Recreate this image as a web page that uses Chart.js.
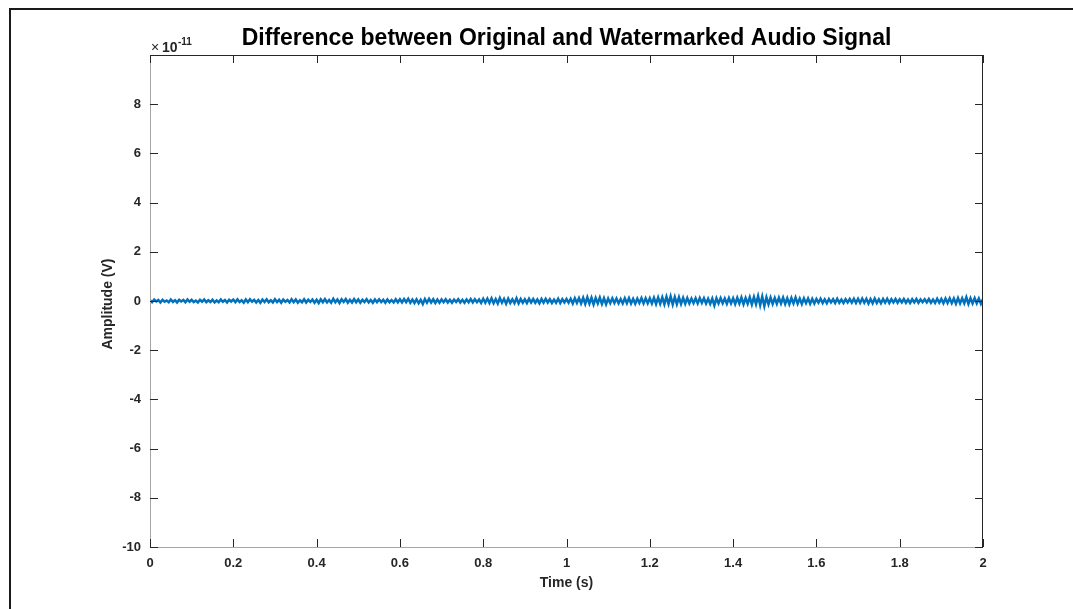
<!DOCTYPE html>
<html>
<head>
<meta charset="utf-8">
<script src="https://cdn.jsdelivr.net/npm/chart.js@4/dist/chart.umd.min.js"></script>
<style>
  html, body { margin: 0; padding: 0; background: #fff; }
  #wrap { width: 1073px; height: 609px; }
</style>
</head>
<body>
<div id="wrap"><canvas id="diffChart" width="1073" height="609"></canvas></div>
<script>
// difference signal, in units of 1e-11 V, one sample every 5 ms
const sampleStep = 0.005;
const diffValues = [
  0.03,-0.05,0.06,-0.02,0.04,-0.06,0.05,-0.03,0.02,-0.05,0.06,-0.04,0.03,-0.06,0.05,-0.02,0.04,-0.05,0.06,-0.03,
  0.05,-0.04,0.02,-0.06,0.05,-0.03,0.06,-0.05,0.03,-0.04,0.05,-0.06,0.02,-0.05,0.06,-0.03,0.04,-0.06,0.05,-0.02,
  0.06,-0.05,0.07,-0.04,0.03,-0.07,0.06,-0.05,0.07,-0.03,0.05,-0.06,0.04,-0.07,0.06,-0.04,0.07,-0.05,0.03,-0.06,
  0.07,-0.04,0.05,-0.07,0.06,-0.03,0.04,-0.06,0.07,-0.05,0.06,-0.07,0.03,-0.05,0.07,-0.06,0.05,-0.04,0.06,-0.07,
  0.05,-0.08,0.07,-0.05,0.08,-0.06,0.04,-0.07,0.09,-0.05,0.06,-0.08,0.07,-0.04,0.08,-0.07,0.05,-0.06,0.08,-0.05,
  0.06,-0.07,0.05,-0.04,0.07,-0.06,0.04,-0.07,0.06,-0.05,0.07,-0.04,0.05,-0.07,0.06,-0.05,0.04,-0.06,0.07,-0.05,
  0.07,-0.06,0.08,-0.05,0.09,-0.07,0.06,-0.08,0.07,-0.09,0.05,-0.12,0.08,-0.07,0.09,-0.06,0.07,-0.08,0.06,-0.07,
  0.06,-0.05,0.07,-0.06,0.05,-0.07,0.06,-0.04,0.07,-0.06,0.05,-0.07,0.06,-0.05,0.08,-0.06,0.07,-0.05,0.06,-0.08,
  0.09,-0.07,0.10,-0.08,0.11,-0.09,0.08,-0.10,0.12,-0.07,0.09,-0.11,0.10,-0.08,0.07,-0.09,0.11,-0.10,0.08,-0.07,
  0.07,-0.08,0.09,-0.06,0.08,-0.07,0.06,-0.09,0.08,-0.07,0.09,-0.06,0.07,-0.08,0.06,-0.07,0.09,-0.08,0.07,-0.06,
  0.08,-0.07,0.09,-0.10,0.11,-0.08,0.12,-0.10,0.13,-0.12,0.15,-0.11,0.13,-0.14,0.12,-0.10,0.14,-0.12,0.11,-0.13,
  0.10,-0.09,0.11,-0.08,0.10,-0.09,0.08,-0.10,0.11,-0.09,0.12,-0.10,0.09,-0.11,0.10,-0.08,0.12,-0.10,0.11,-0.09,
  0.11,-0.10,0.13,-0.12,0.14,-0.11,0.15,-0.13,0.17,-0.12,0.19,-0.14,0.16,-0.13,0.15,-0.12,0.13,-0.11,0.12,-0.10,
  0.10,-0.09,0.11,-0.10,0.12,-0.08,0.11,-0.10,0.09,-0.12,0.10,-0.18,0.11,-0.10,0.12,-0.09,0.10,-0.11,0.12,-0.10,
  0.11,-0.12,0.13,-0.10,0.14,-0.13,0.12,-0.11,0.15,-0.14,0.16,-0.13,0.20,-0.17,0.18,-0.21,0.15,-0.13,0.14,-0.12,
  0.12,-0.11,0.13,-0.10,0.14,-0.12,0.11,-0.13,0.12,-0.10,0.14,-0.11,0.10,-0.12,0.11,-0.09,0.10,-0.11,0.09,-0.10,
  0.08,-0.07,0.09,-0.08,0.07,-0.09,0.08,-0.06,0.07,-0.08,0.09,-0.07,0.06,-0.08,0.07,-0.06,0.08,-0.07,0.09,-0.08,
  0.09,-0.08,0.10,-0.07,0.09,-0.10,0.08,-0.09,0.10,-0.08,0.07,-0.09,0.08,-0.07,0.09,-0.08,0.07,-0.06,0.08,-0.07,
  0.07,-0.06,0.08,-0.07,0.06,-0.08,0.07,-0.06,0.08,-0.07,0.06,-0.05,0.07,-0.06,0.08,-0.07,0.06,-0.08,0.09,-0.07,
  0.08,-0.09,0.10,-0.08,0.11,-0.09,0.10,-0.11,0.12,-0.10,0.11,-0.09,0.15,-0.12,0.11,-0.10,0.12,-0.09,0.10,-0.11,
  0.08
];
const xTicks = [0, 0.2, 0.4, 0.6, 0.8, 1, 1.2, 1.4, 1.6, 1.8, 2];
const yTicks = [-10, -8, -6, -4, -2, 0, 2, 4, 6, 8, 10];

const chartTitle = 'Difference between Original and Watermarked Audio Signal';
const xLabel = 'Time (s)';
const yLabel = 'Amplitude (V)';

const points = diffValues.map((v, i) => ({ x: i * sampleStep, y: v }));

const textColor = '#262626';
const fontFamily = '"Liberation Sans", Arial, Helvetica, sans-serif';

// frame, box, inward ticks, titles (matlab style)
const matlabDecor = {
    id: 'matlabDecor',
    beforeDraw(chart) {
        const ctx = chart.ctx;
        ctx.save();
        ctx.fillStyle = '#fff';
        ctx.fillRect(0, 0, chart.width, chart.height);
        // outer figure frame
        ctx.strokeStyle = '#1a1a1a';
        ctx.lineWidth = 2;
        ctx.beginPath();
        ctx.moveTo(10, chart.height + 2);
        ctx.lineTo(10, 9);
        ctx.lineTo(chart.width + 2, 9);
        ctx.stroke();
        ctx.restore();
    },
    afterDraw(chart) {
        const ctx = chart.ctx;
        const a = chart.chartArea;
        const xs = chart.scales.x;
        const ys = chart.scales.y;
        ctx.save();
        ctx.lineWidth = 1;

        // box: left/bottom grey, right/top dark
        ctx.strokeStyle = '#a6a6a6';
        ctx.beginPath();
        ctx.moveTo(a.left + 0.5, a.top);
        ctx.lineTo(a.left + 0.5, a.bottom + 0.5);
        ctx.lineTo(a.right, a.bottom + 0.5);
        ctx.stroke();
        ctx.strokeStyle = textColor;
        ctx.beginPath();
        ctx.moveTo(a.left, a.top + 0.5);
        ctx.lineTo(a.right - 0.5, a.top + 0.5);
        ctx.lineTo(a.right - 0.5, a.bottom + 0.5);
        ctx.stroke();

        // inward tick marks
        const tl = 8;
        ctx.strokeStyle = textColor;
        ctx.beginPath();
        for (const t of xTicks) {
            const px = Math.round(xs.getPixelForValue(t)) + 0.5;
            ctx.moveTo(px, a.bottom);
            ctx.lineTo(px, a.bottom - tl);
            ctx.moveTo(px, a.top);
            ctx.lineTo(px, a.top + tl);
        }
        for (const t of yTicks) {
            const py = Math.round(ys.getPixelForValue(t)) + 0.5;
            ctx.moveTo(a.left, py);
            ctx.lineTo(a.left + tl, py);
            ctx.moveTo(a.right, py);
            ctx.lineTo(a.right - tl, py);
        }
        ctx.stroke();

        const cx = (a.left + a.right) / 2;

        // title
        ctx.fillStyle = '#000';
        ctx.font = 'bold 23px ' + fontFamily;
        ctx.textAlign = 'center';
        ctx.textBaseline = 'alphabetic';
        ctx.fillText(chartTitle, cx, 45);

        // axis labels
        ctx.fillStyle = textColor;
        ctx.font = 'bold 14px ' + fontFamily;
        ctx.textBaseline = 'middle';
        ctx.fillText(xLabel, cx, 583);
        ctx.save();
        ctx.translate(108, (a.top + a.bottom) / 2 + 3);
        ctx.rotate(-Math.PI / 2);
        ctx.fillText(yLabel, 0, 0);
        ctx.restore();

        // exponent
        ctx.textAlign = 'left';
        ctx.textBaseline = 'alphabetic';
        ctx.font = '14px ' + fontFamily;
        ctx.fillText('\u00d7', 151, 52);
        ctx.font = 'bold 14px ' + fontFamily;
        ctx.fillText('10', 162, 52);
        ctx.font = 'bold 10px ' + fontFamily;
        ctx.fillText('-11', 178, 45);

        ctx.restore();
    }
};

const ctx = document.getElementById('diffChart').getContext('2d');
const diffChart = new Chart(ctx, {
    type: 'line',
    data: {
        datasets: [{
            label: 'Difference',
            data: points,
            borderColor: '#0072BD',
            borderWidth: 2.5,
            pointRadius: 0,
            tension: 0,
            fill: false
        }]
    },
    options: {
        responsive: false,
        animation: false,
        events: [],
        layout: { padding: { top: 55, right: 90, left: 0, bottom: 0 } },
        plugins: {
            legend: { display: false },
            title: { display: false },
            tooltip: { enabled: false }
        },
        scales: {
            x: {
                type: 'linear',
                min: 0,
                max: 2,
                border: { display: false },
                grid: { display: false, drawTicks: false, tickLength: 0 },
                afterBuildTicks: (scale) => { scale.ticks = xTicks.map(v => ({ value: v })); },
                afterFit: (scale) => { scale.height = 62; },
                ticks: {
                    padding: 9,
                    maxRotation: 0,
                    autoSkip: false,
                    color: textColor,
                    font: { family: fontFamily, size: 13, weight: 'bold' },
                    callback: (v) => String(+v.toFixed(1))
                }
            },
            y: {
                type: 'linear',
                min: -10,
                max: 10,
                border: { display: false },
                grid: { display: false, drawTicks: false, tickLength: 0 },
                afterBuildTicks: (scale) => { scale.ticks = yTicks.map(v => ({ value: v })); },
                afterFit: (scale) => { scale.width = 150; },
                ticks: {
                    padding: 9,
                    autoSkip: false,
                    color: textColor,
                    font: { family: fontFamily, size: 13, weight: 'bold' },
                    callback: (v) => (v === 10 ? '' : String(v))
                }
            }
        }
    },
    plugins: [matlabDecor]
});
</script>
</body>
</html>
